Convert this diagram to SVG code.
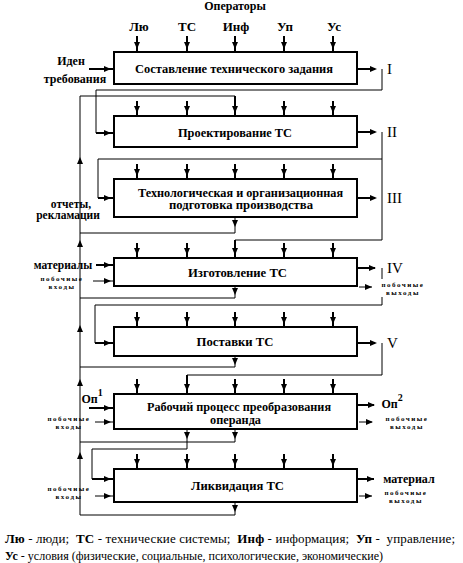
<svg xmlns="http://www.w3.org/2000/svg" xmlns:xlink="http://www.w3.org/1999/xlink" width="463" height="563" viewBox="0 0 463 563">
<style>
.box{fill:#fff;stroke:#000;stroke-width:2}
.t{font-family:"Liberation Serif","DejaVu Serif",serif;font-weight:bold;font-size:13px;text-anchor:middle;fill:#000}
.t2{font-size:11.5px}
.s{font-family:"Liberation Serif","DejaVu Serif",serif;font-weight:bold;font-size:7px;letter-spacing:1.5px;text-anchor:middle;fill:#000}
.r{font-family:"Liberation Serif","DejaVu Serif",serif;font-size:15px;fill:#000}
.lg{font-family:"Liberation Serif","DejaVu Serif",serif;font-size:13px;fill:#000}
.th{fill:none;stroke:#000;stroke-width:2}
.tn{fill:none;stroke:#000;stroke-width:1}
</style>
<defs>
<path id="ah" d="M-7,-3 L0,0 L-7,3 Z" fill="#000"/>
</defs>
<g id="connectors">
<g class="th">
<path d="M137,36V52M187,36V52M235,36V52M284,36V52M333,36V52"/>
<path d="M137,101V116M187,101V116M235,96V116M284,101V116M333,101V116"/>
<path d="M137,164V179M187,164V179M235,164V179M284,164V179M333,164V179"/>
<path d="M137,243V258M187,243V258M235,240V258M284,243V258M333,243V258"/>
<path d="M137,312V327M187,312V327M235,312V327M284,312V327M333,312V327"/>
<path d="M137,379V394M187,375V394M235,379V394M284,379V394M333,379V394"/>
<path d="M137,454V469M187,454V469M235,454V469M284,454V469M333,454V469"/>
</g>
<g>
<use xlink:href="#ah" transform="translate(137,49) rotate(90)"/><use xlink:href="#ah" transform="translate(187,49) rotate(90)"/><use xlink:href="#ah" transform="translate(235,49) rotate(90)"/><use xlink:href="#ah" transform="translate(284,49) rotate(90)"/><use xlink:href="#ah" transform="translate(333,49) rotate(90)"/>
<use xlink:href="#ah" transform="translate(137,113) rotate(90)"/><use xlink:href="#ah" transform="translate(187,113) rotate(90)"/><use xlink:href="#ah" transform="translate(235,113) rotate(90)"/><use xlink:href="#ah" transform="translate(284,113) rotate(90)"/><use xlink:href="#ah" transform="translate(333,113) rotate(90)"/>
<use xlink:href="#ah" transform="translate(137,176) rotate(90)"/><use xlink:href="#ah" transform="translate(187,176) rotate(90)"/><use xlink:href="#ah" transform="translate(235,176) rotate(90)"/><use xlink:href="#ah" transform="translate(284,176) rotate(90)"/><use xlink:href="#ah" transform="translate(333,176) rotate(90)"/>
<use xlink:href="#ah" transform="translate(137,255) rotate(90)"/><use xlink:href="#ah" transform="translate(187,255) rotate(90)"/><use xlink:href="#ah" transform="translate(235,255) rotate(90)"/><use xlink:href="#ah" transform="translate(284,255) rotate(90)"/><use xlink:href="#ah" transform="translate(333,255) rotate(90)"/>
<use xlink:href="#ah" transform="translate(137,324) rotate(90)"/><use xlink:href="#ah" transform="translate(187,324) rotate(90)"/><use xlink:href="#ah" transform="translate(235,324) rotate(90)"/><use xlink:href="#ah" transform="translate(284,324) rotate(90)"/><use xlink:href="#ah" transform="translate(333,324) rotate(90)"/>
<use xlink:href="#ah" transform="translate(137,391) rotate(90)"/><use xlink:href="#ah" transform="translate(187,391) rotate(90)"/><use xlink:href="#ah" transform="translate(235,391) rotate(90)"/><use xlink:href="#ah" transform="translate(284,391) rotate(90)"/><use xlink:href="#ah" transform="translate(333,391) rotate(90)"/>
<use xlink:href="#ah" transform="translate(137,466) rotate(90)"/><use xlink:href="#ah" transform="translate(187,466) rotate(90)"/><use xlink:href="#ah" transform="translate(235,466) rotate(90)"/><use xlink:href="#ah" transform="translate(284,466) rotate(90)"/><use xlink:href="#ah" transform="translate(333,466) rotate(90)"/>
</g>
<path class="tn" d="M80,515V96H235"/>
<path class="tn" d="M235,217V233H80M235,286V298H80M235,356V367H80M235,429V442H80M235,502V515H80"/>
<use xlink:href="#ah" transform="translate(80,157) rotate(-90)"/>
<use xlink:href="#ah" transform="translate(80,240) rotate(-90)"/>
<use xlink:href="#ah" transform="translate(80,325) rotate(-90)"/>
<use xlink:href="#ah" transform="translate(80,379) rotate(-90)"/>
<use xlink:href="#ah" transform="translate(80,452) rotate(-90)"/>
<use xlink:href="#ah" transform="translate(235,227) rotate(90)"/>
<use xlink:href="#ah" transform="translate(235,295) rotate(90)"/>
<use xlink:href="#ah" transform="translate(235,365) rotate(90)"/>
<use xlink:href="#ah" transform="translate(235,439) rotate(90)"/>
<use xlink:href="#ah" transform="translate(187,439) rotate(90)"/>
<use xlink:href="#ah" transform="translate(235,512) rotate(90)"/>
<path class="th" d="M357,69H375M357,132H375M357,198H375M357,268H375M357,343H375M357,405H374M357,479H374"/>
<path class="tn" d="M359,287H372M359,422H372M359,496H372"/>
<use xlink:href="#ah" transform="translate(377,69)"/>
<use xlink:href="#ah" transform="translate(377,132)"/>
<use xlink:href="#ah" transform="translate(377,198)"/>
<use xlink:href="#ah" transform="translate(376,268)"/>
<use xlink:href="#ah" transform="translate(377,343)"/>
<use xlink:href="#ah" transform="translate(375,405)"/>
<use xlink:href="#ah" transform="translate(374,479)"/>
<use xlink:href="#ah" transform="translate(372,287)"/>
<use xlink:href="#ah" transform="translate(373,422)"/>
<use xlink:href="#ah" transform="translate(372,496)"/>
<path class="tn" d="M382,69V90H96V133"/>
<path class="th" d="M96,133H114"/>
<path class="tn" d="M382,132V240H235M382,159H98V198"/>
<path class="th" d="M98,198H114"/>
<path class="tn" d="M382,268V279M382,297V305H95V343"/>
<path class="th" d="M95,343H114"/>
<path class="tn" d="M382,343V375H187"/>
<path class="tn" d="M187,429V449H92V479"/>
<path class="th" d="M92,479H114"/>
<path class="th" d="M89,69H114M96,265H114M89,408H114"/>
<path class="tn" d="M93,281H114M95,422H114M95,496H114"/>
<use xlink:href="#ah" transform="translate(111,69)"/>
<use xlink:href="#ah" transform="translate(111,133)"/>
<use xlink:href="#ah" transform="translate(111,198)"/>
<use xlink:href="#ah" transform="translate(111,265)"/>
<use xlink:href="#ah" transform="translate(111,281)"/>
<use xlink:href="#ah" transform="translate(111,343)"/>
<use xlink:href="#ah" transform="translate(111,408)"/>
<use xlink:href="#ah" transform="translate(111,422)"/>
<use xlink:href="#ah" transform="translate(111,479)"/>
<use xlink:href="#ah" transform="translate(111,496)"/>
</g>
<g id="n1"><rect class="box" x="114" y="52" width="243" height="32"/><text class="t" x="234" y="73" textLength="198" lengthAdjust="spacingAndGlyphs">Составление технического задания</text></g>
<g id="n2"><rect class="box" x="114" y="116" width="243" height="31"/><text class="t" x="235" y="137" textLength="114" lengthAdjust="spacingAndGlyphs">Проектирование  ТС</text></g>
<g id="n3"><rect class="box" x="114" y="179" width="243" height="38"/><text class="t t2" x="240.5" y="197" textLength="205" lengthAdjust="spacingAndGlyphs">Технологическая и организационная</text><text class="t t2" x="241" y="209" textLength="144" lengthAdjust="spacingAndGlyphs">подготовка производства</text></g>
<g id="n4"><rect class="box" x="114" y="258" width="243" height="28"/><text class="t" x="237.5" y="277" textLength="99" lengthAdjust="spacingAndGlyphs">Изготовление  ТС</text></g>
<g id="n5"><rect class="box" x="114" y="327" width="243" height="29"/><text class="t" x="235" y="346" textLength="77" lengthAdjust="spacingAndGlyphs">Поставки  ТС</text></g>
<g id="n6"><rect class="box" x="114" y="394" width="243" height="35"/><text class="t t2" x="239" y="411" textLength="184" lengthAdjust="spacingAndGlyphs">Рабочий процесс преобразования</text><text class="t t2" x="235.5" y="424" textLength="51" lengthAdjust="spacingAndGlyphs">операнда</text></g>
<g id="n7"><rect class="box" x="114" y="469" width="243" height="33"/><text class="t" x="237.5" y="490" textLength="93" lengthAdjust="spacingAndGlyphs">Ликвидация  ТС</text></g>
<g id="labels">
<text class="t" x="235" y="10" style="font-size:12px">Операторы</text>
<text class="t" x="139" y="31">Лю</text>
<text class="t" x="187" y="31">ТС</text>
<text class="t" x="236" y="31">Инф</text>
<text class="t" x="285" y="31">Уп</text>
<text class="t" x="334" y="31">Ус</text>
<text class="t" x="71" y="65" style="font-size:12px">Иден</text>
<text class="t" x="75" y="83" style="font-size:12px">требования</text>
<text class="t" x="71" y="208" style="font-size:11.5px">отчеты,</text>
<text class="t" x="68" y="219" style="font-size:11.5px">рекламации</text>
<text class="t" x="63" y="269" style="font-size:11.5px">материалы</text>
<text class="s" x="62" y="281">побочные</text><text class="s" x="62" y="289">входы</text>
<text class="s" x="403" y="287">побочные</text><text class="s" x="403" y="295">выходы</text>
<text class="s" x="69" y="421">побочные</text><text class="s" x="69" y="429">входы</text>
<text class="s" x="407" y="421">побочные</text><text class="s" x="407" y="429">выходы</text>
<text class="s" x="69" y="491">побочные</text><text class="s" x="69" y="499">входы</text>
<text class="s" x="406" y="495">побочные</text><text class="s" x="406" y="503">выходы</text>
<text class="t" x="92" y="403" style="font-size:12px">Оп<tspan dy="-7" font-size="10">1</tspan></text>
<text class="t" x="392" y="408" style="font-size:12px">Оп<tspan dy="-7" font-size="10">2</tspan></text>
<text class="t" x="409" y="483" style="font-size:12px">материал</text>
<text class="r" x="387" y="74">I</text>
<text class="r" x="387" y="137">II</text>
<text class="r" x="387" y="203">III</text>
<text class="r" x="387" y="273">IV</text>
<text class="r" x="387" y="348">V</text>
</g>
<g id="legend">
<text class="lg" x="5" y="543" xml:space="preserve" textLength="450" lengthAdjust="spacing"><tspan font-weight="bold">Лю</tspan> - люди;  <tspan font-weight="bold">ТС</tspan> - технические системы;  <tspan font-weight="bold">Инф</tspan> - информация;  <tspan font-weight="bold">Уп</tspan> -  управление;</text>
<text class="lg" x="5" y="560" xml:space="preserve" textLength="378" lengthAdjust="spacingAndGlyphs"><tspan font-weight="bold">Ус</tspan> - условия (физические, социальные, психологические, экономические)</text>
</g>
</svg>
